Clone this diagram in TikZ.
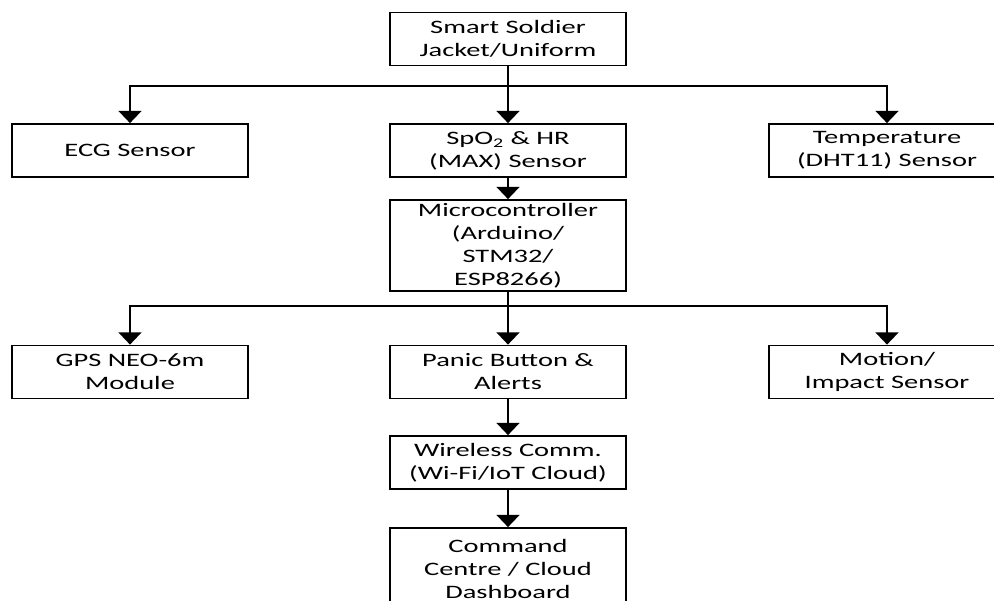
\documentclass[tikz,border=0pt]{standalone}
\usepackage{fontspec}
\setmainfont{Carlito}[FakeStretch=1.5]
\usetikzlibrary{arrows.meta,positioning}

\tikzset{
  blk/.style={draw, line width=1pt, minimum width=4.72cm, minimum height=1.06cm,
    align=center, inner sep=0pt, font=\fontsize{10.8}{13.1}\selectfont},
  arr/.style={line width=1.4pt, -{Triangle[width=13pt,length=7pt]}},
}

\begin{document}
\begin{tikzpicture}[x=0.02cm, y=-0.02cm]
  \useasboundingbox (0,0) rectangle (994,601);
  \clip (0,0) rectangle (994,601);
  \node[blk] (jacket) at (508,39) {Smart Soldier\\Jacket/Uniform};
  \node[blk] (ecg) at (130,150.5) {ECG Sensor};
  \node[blk] (spo) at (508,150.5) {SpO\textsubscript{2} \& HR\\(MAX) Sensor};
  \node[blk] (temp) at (887,150.5) {Temperature\\(DHT11) Sensor};
  \node[blk, minimum height=1.82cm] (mcu) at (508,245.5) {Microcontroller\\(Arduino/\\STM32/\\ESP8266)};
  \node[blk] (gps) at (130,372) {GPS NEO-6m\\Module};
  \node[blk] (panic) at (508,372) {Panic Button \&\\Alerts};
  \node[blk] (motion) at (887,372) {Motion/\\Impact Sensor};
  \node[blk] (wifi) at (508,462.5) {Wireless Comm.\\(Wi-Fi/IoT Cloud)};
  \node[blk, minimum height=1.62cm] (cmd) at (508,568.5) {Command\\Centre / Cloud\\Dashboard};
  \coordinate (fork1) at (508,86);
  \coordinate (fork2) at (508,306);
  \draw[arr] (jacket) -- (spo);
  \draw[arr] (fork1) -| (ecg);
  \draw[arr] (fork1) -| (temp);
  \draw[arr] (spo) -- (mcu);
  \draw[arr] (mcu) -- (panic);
  \draw[arr] (fork2) -| (gps);
  \draw[arr] (fork2) -| (motion);
  \draw[arr] (panic) -- (wifi);
  \draw[arr] (wifi) -- (cmd);
\end{tikzpicture}
\end{document}
